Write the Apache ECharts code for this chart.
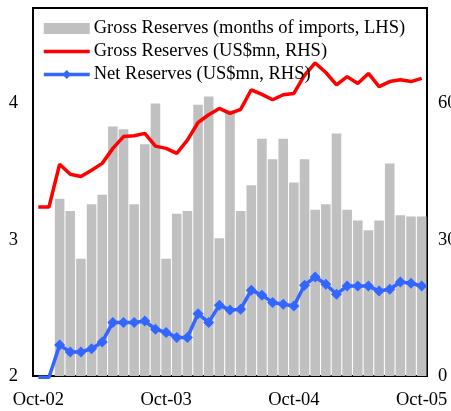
<!DOCTYPE html>
<html><head><meta charset="utf-8">
<script src="https://cdn.jsdelivr.net/npm/echarts@6/dist/echarts.min.js"></script>
<style>html,body{margin:0;padding:0;background:#fff}#c{width:451px;height:411px}</style>
</head><body><div id="c"></div>
<script>
const months = ['Oct-02','Nov-02','Dec-02','Jan-03','Feb-03','Mar-03','Apr-03','May-03','Jun-03','Jul-03','Aug-03','Sep-03',
  'Oct-03','Nov-03','Dec-03','Jan-04','Feb-04','Mar-04','Apr-04','May-04','Jun-04','Jul-04','Aug-04','Sep-04',
  'Oct-04','Nov-04','Dec-04','Jan-05','Feb-05','Mar-05','Apr-05','May-05','Jun-05','Jul-05','Aug-05','Sep-05','Oct-05'];
// Gross reserves, months of imports (LHS)
const grossMonths = [null,null,3.30,3.21,2.86,3.26,3.33,3.83,3.81,3.26,3.70,4.00,
  2.86,3.19,3.21,3.99,4.05,3.01,3.95,3.21,3.40,3.74,3.59,3.74,
  3.42,3.59,3.22,3.26,3.78,3.22,3.14,3.07,3.14,3.56,3.18,3.17,3.17];
// Gross reserves, US$mn (RHS)
const grossUSD = [372,372,466,444,439,453,468,501,527,529,534,506,
  501,490,519,558,575,589,578,587,630,620,608,619,
  622,662,689,668,641,659,644,666,637,648,652,648,655];
// Net reserves, US$mn (RHS)
const netUSD = [-3,-3,68,53,53,60,75,118,118,118,121,103,
  96,85,85,137,118,156,145,147,189,178,162,158,
  154,200,218,202,180,198,198,198,187,191,207,204,198];
const leftTicks = [2,3,4];
const rightTicks = [0,300,600];

const font = 'Liberation Serif';
const fs = 18.5;
const netData = netUSD.map((v,i) => i < 2 ? {value:v, symbol:'none'} : v);
const chart = echarts.init(document.getElementById('c'), null, {renderer:'canvas'});
chart.setOption({
  animation:false,
  backgroundColor:'#fff',
  textStyle:{fontFamily:font,color:'#000'},
  grid:{left:33,right:24,top:8,bottom:35,show:true,borderColor:'#000',borderWidth:2,containLabel:false,outerBoundsMode:'none'},
  legend:{
    orient:'vertical',left:42,top:19,padding:0,itemWidth:46,itemHeight:11,itemGap:4,
    textStyle:{fontFamily:font,fontSize:fs,color:'#000',padding:[0,0,0,-1]},
    data:[
      {name:'Gross Reserves (months of imports, LHS)',icon:'rect'},
      {name:'Gross Reserves (US$mn, RHS)',itemStyle:{opacity:0},lineStyle:{width:3.5,color:'#ff0000'}},
      {name:'Net Reserves (US$mn, RHS)',lineStyle:{width:3.5,color:'#3366ff'}}
    ]
  },
  xAxis:{
    type:'category',data:months,boundaryGap:true,
    axisLine:{lineStyle:{color:'#000',width:2}},
    axisTick:{show:false},
    axisLabel:{interval:11,fontFamily:font,fontSize:fs,color:'#000',margin:15}
  },
  yAxis:[
    {type:'value',min:leftTicks[0],max:4.7,interval:leftTicks[1]-leftTicks[0],
     axisLine:{show:true,lineStyle:{color:'#000',width:2}},axisTick:{show:false},splitLine:{show:false},
     axisLabel:{showMaxLabel:false,fontFamily:font,fontSize:fs,color:'#000',margin:15}},
    {type:'value',min:rightTicks[0],max:810,interval:rightTicks[1]-rightTicks[0],
     axisLine:{show:true,lineStyle:{color:'#000',width:2}},axisTick:{show:false},splitLine:{show:false},
     axisLabel:{showMaxLabel:false,fontFamily:font,fontSize:fs,color:'#000',margin:11}}
  ],
  series:[
    {name:'Gross Reserves (months of imports, LHS)',type:'bar',yAxisIndex:0,data:grossMonths,
     barCategoryGap:'10%',itemStyle:{color:'#c0c0c0'}},
    {name:'Gross Reserves (US$mn, RHS)',type:'line',yAxisIndex:1,data:grossUSD,
     symbol:'none',lineStyle:{color:'#ff0000',width:3.5},itemStyle:{color:'#ff0000'}},
    {name:'Net Reserves (US$mn, RHS)',type:'line',yAxisIndex:1,data:netData,clip:false,
     symbol:'diamond',symbolSize:11,showAllSymbol:true,
     lineStyle:{color:'#3366ff',width:3.5},itemStyle:{color:'#3366ff'}}
  ]
});
</script></body></html>
